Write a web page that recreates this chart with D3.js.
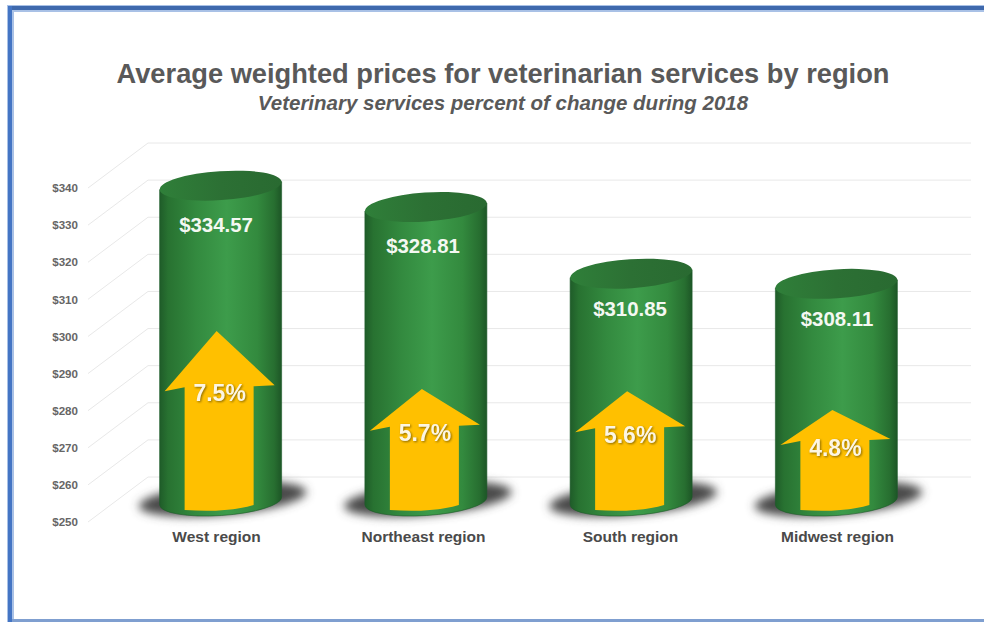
<!DOCTYPE html>
<html>
<head>
<meta charset="utf-8">
<title>Veterinarian services by region</title>
<script src="https://cdn.jsdelivr.net/npm/d3@7"></script>
<style>
  html, body { margin: 0; padding: 0; background: #fff; }
  svg { display: block; font-family: "Liberation Sans", Arial, sans-serif; }
</style>
</head>
<body>
<svg id="chart" width="984" height="622"></svg>
<script>
var regions = ["West region", "Northeast region", "South region", "Midwest region"];
var prices = [334.57, 328.81, 310.85, 308.11];
var pctChange = [7.5, 5.7, 5.6, 4.8];
var yTicks = [250, 260, 270, 280, 290, 300, 310, 320, 330, 340];

var svg = d3.select("#chart");
var defs = svg.append("defs");

// depth of the fake 3D floor
var depthX = 60, depthY = -45;

var y = d3.scaleLinear().domain([250, 340]).range([522, 188]);
var x = d3.scaleBand().domain(regions).range([88, 909]);
var labelX = d3.scalePoint().domain(regions).range([216, 837]);
// price labels sit a bit closer to the top on the short bars
var priceLabelY = d3.scaleLinear().domain([308.11, 334.57]).range([319, 225]);
// the arrows were placed by hand in the original, so this is not a straight line
var arrowTip = d3.scaleLinear().domain([4.8, 5.7, 7.5]).range([410, 389, 331]);

var rx = 61, ry = 14.5, tilt = -3.8;
var baseY = 501, arrowBase = 510;

function gradient(id, stops) {
    var g = defs.append("linearGradient").attr("id", id);
    stops.forEach(function (s) {
        g.append("stop").attr("offset", s[0]).attr("stop-color", s[1]);
    });
}
gradient("bodyFill", [[0, "#1f5c29"], [0.07, "#287231"], [0.3, "#338a3f"], [0.55, "#3d9c4b"], [0.8, "#338a3e"], [0.94, "#276e30"], [1, "#1d5626"]]);
gradient("topFill", [[0, "#2f7f39"], [0.5, "#2c7034"], [1, "#296a31"]]);

defs.append("filter").attr("id", "shadowBlur")
    .attr("x", "-20%").attr("y", "-50%").attr("width", "140%").attr("height", "200%")
    .append("feGaussianBlur").attr("stdDeviation", 5);

// frame, only three sides are visible
var frame = svg.append("g");
frame.append("rect").attr("x", 7).attr("y", 5).attr("width", 977).attr("height", 7).attr("fill", "#a9c1e6");
frame.append("rect").attr("x", 7).attr("y", 5).attr("width", 7).attr("height", 617).attr("fill", "#a9c1e6");
frame.append("rect").attr("x", 8).attr("y", 6).attr("width", 976).attr("height", 4).attr("fill", "#3f69ad");
frame.append("rect").attr("x", 8).attr("y", 6).attr("width", 4).attr("height", 616).attr("fill", "#4475c4");
frame.append("rect").attr("x", 12).attr("y", 619).attr("width", 972).attr("height", 3).attr("fill", "#7f9fd0");

svg.append("text")
    .attr("x", 503).attr("y", 83)
    .attr("text-anchor", "middle")
    .attr("font-size", 27.25).attr("font-weight", "bold").attr("fill", "#595959")
    .text("Average weighted prices for veterinarian services by region");

svg.append("text")
    .attr("x", 503).attr("y", 110)
    .attr("text-anchor", "middle")
    .attr("font-size", 20.5).attr("font-weight", "bold").attr("font-style", "italic").attr("fill", "#595959")
    .text("Veterinary services percent of change during 2018");

// grid: back wall and side wall
var grid = svg.append("g").attr("stroke", "#e8e8e8").attr("stroke-width", 1).attr("fill", "none");
grid.selectAll(".back").data(yTicks).enter().append("line")
    .attr("class", "back")
    .attr("x1", 88 + depthX).attr("x2", 971)
    .attr("y1", function (d) { return y(d) + depthY; })
    .attr("y2", function (d) { return y(d) + depthY; });
grid.selectAll(".side").data(yTicks).enter().append("line")
    .attr("class", "side")
    .attr("x1", 88).attr("x2", 88 + depthX)
    .attr("y1", function (d) { return y(d); })
    .attr("y2", function (d) { return y(d) + depthY; });

var yAxis = d3.axisLeft(y)
    .tickValues(yTicks)
    .tickSize(0)
    .tickPadding(0)
    .tickFormat(function (d) { return "$" + d; });
var yAxisG = svg.append("g").attr("transform", "translate(78,0)").call(yAxis);
yAxisG.select(".domain").remove();
yAxisG.selectAll("text")
    .attr("font-size", 11.6).attr("font-weight", "bold").attr("fill", "#666666")
    .attr("font-family", "Liberation Sans");

var xAxis = d3.axisBottom(labelX).tickSize(0).tickPadding(0);
var xAxisG = svg.append("g").attr("transform", "translate(0,531)").call(xAxis);
xAxisG.select(".domain").remove();
xAxisG.selectAll("text")
    .attr("font-size", 15.5).attr("font-weight", "bold").attr("fill", "#4a4a4a")
    .attr("font-family", "Liberation Sans");

function centerX(i) {
    return x(regions[i]) + x.bandwidth() / 2 + depthX / 2;
}
function topY(i) {
    return y(prices[i]) + depthY / 2;
}

var bars = svg.selectAll(".bar").data(regions).enter().append("g").attr("class", "bar");

bars.append("ellipse")
    .attr("cx", function (d, i) { return centerX(i) + 2; })
    .attr("cy", baseY - 2)
    .attr("rx", 84).attr("ry", 16)
    .attr("transform", function (d, i) { return "rotate(-5 " + (centerX(i) + 2) + " " + (baseY - 2) + ")"; })
    .attr("fill", "#484848")
    .attr("filter", "url(#shadowBlur)");

// cylinder body, the bottom edge is an arc of the tilted ellipse
bars.append("path")
    .attr("fill", "url(#bodyFill)")
    .attr("stroke", "#1d5a28").attr("stroke-width", 0.6)
    .attr("d", function (d, i) {
        var cx = centerX(i), t = topY(i);
        return "M" + (cx - rx) + "," + (t + 4)
            + "L" + (cx - rx) + "," + (baseY + 4)
            + "A" + rx + "," + ry + " " + tilt + " 0 0 " + (cx + rx) + "," + (baseY - 4)
            + "L" + (cx + rx) + "," + (t - 4) + "Z";
    });

bars.append("ellipse")
    .attr("cx", function (d, i) { return centerX(i); })
    .attr("cy", function (d, i) { return topY(i); })
    .attr("rx", rx).attr("ry", ry)
    .attr("transform", function (d, i) { return "rotate(" + tilt + " " + centerX(i) + " " + topY(i) + ")"; })
    .attr("fill", "url(#topFill)");

bars.append("text")
    .attr("x", function (d, i) { return labelX(regions[i]); })
    .attr("y", function (d, i) { return priceLabelY(prices[i]); })
    .attr("dy", "0.35em")
    .attr("text-anchor", "middle")
    .attr("font-size", 20.4).attr("font-weight", "bold").attr("fill", "#f4f8f2")
    .text(function (d, i) { return "$" + prices[i].toFixed(2); });

// arrows
bars.append("path")
    .attr("fill", "#ffc000")
    .attr("d", function (d, i) {
        var cx = centerX(i) - 4;
        var tip = arrowTip(pctChange[i]);
        var h = arrowBase - tip;
        var head = tip + 0.32 * h;
        return "M" + cx + "," + tip
            + "L" + (cx + 58) + "," + (head - 3)
            + "L" + (cx + 37) + "," + (head - 2)
            + "L" + (cx + 37) + "," + (arrowBase - 5)
            + "Q" + (cx + 10) + "," + (arrowBase + 3) + " " + (cx - 32) + "," + arrowBase
            + "L" + (cx - 32) + "," + (head - 1)
            + "L" + (cx - 52) + "," + (head + 3) + "Z";
    });

bars.append("text")
    .attr("x", function (d, i) { return centerX(i) - 1; })
    .attr("y", function (d, i) {
        var tip = arrowTip(pctChange[i]);
        return tip + 0.3 * (arrowBase - tip) + 8;
    })
    .attr("dy", "0.35em")
    .attr("text-anchor", "middle")
    .attr("font-size", 23).attr("font-weight", "bold").attr("fill", "#fdf6e3")
    .style("filter", "drop-shadow(1px 1px 1px rgba(90,70,0,0.7))")
    .text(function (d, i) { return pctChange[i].toFixed(1) + "%"; });
</script>
</body>
</html>
